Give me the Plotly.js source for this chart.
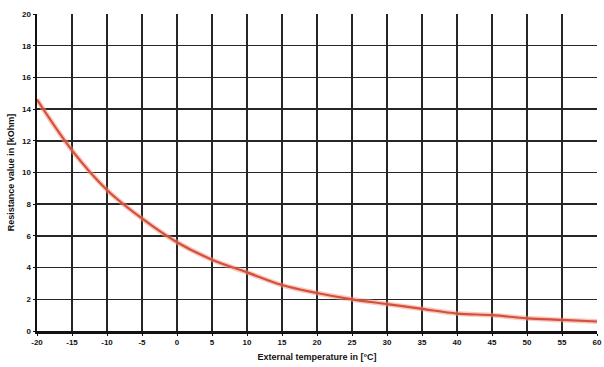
<!DOCTYPE html>
<html><head><meta charset="utf-8">
<script src="https://cdn.plot.ly/plotly-3.0.1.min.js"></script>
<style>html,body{margin:0;padding:0;background:#fff;}#chart{width:604px;height:367px;}</style>
</head><body><div id="chart"></div>
<script>
const temperature = [-20,-15,-10,-5,0,5,10,15,20,25,30,35,40,45,50,55,60];
const resistance = [14.6,11.4,8.9,7.1,5.6,4.5,3.7,2.9,2.4,2.0,1.7,1.4,1.1,1.0,0.8,0.7,0.6];
const xTicks = [-20,-15,-10,-5,0,5,10,15,20,25,30,35,40,45,50,55,60];
const yTicks = [0,2,4,6,8,10,12,14,16,18,20];

const traces = [
  {x: temperature, y: resistance, type:'scatter', mode:'lines', line:{shape:'spline', smoothing:1, color:'rgba(240,150,130,0.5)', width:5}, hoverinfo:'skip'},
  {x: temperature, y: resistance, type:'scatter', mode:'lines', line:{shape:'spline', smoothing:1, color:'#d4503c', width:2.2}}
];
const layout = {
  width:604, height:367, showlegend:false,
  margin:{l:37, r:7, t:14, b:36},
  paper_bgcolor:'#fff', plot_bgcolor:'#fff',
  font:{family:'Liberation Sans, Arial, sans-serif', color:'#111'},
  xaxis:{range:[-20,60], tickvals:xTicks, ticktext:xTicks.map(String), showgrid:true, gridcolor:'#262626', gridwidth:1.5,
    zeroline:false, showline:true, linecolor:'#111', linewidth:2.5, mirror:false, ticks:'outside', ticklen:2, tickcolor:'#111',
    tickfont:{size:8, family:'Liberation Sans, Arial, sans-serif', weight:'bold'},
    title:{text:'<b>External temperature in [°C]</b>', font:{size:9}, standoff:8}},
  yaxis:{range:[0,20], tickvals:yTicks, ticktext:yTicks.map(String), showgrid:true, gridcolor:'#262626', gridwidth:1.5,
    zeroline:false, showline:true, linecolor:'#111', linewidth:2.5, ticks:'outside', ticklen:2, tickcolor:'#111',
    tickfont:{size:8, family:'Liberation Sans, Arial, sans-serif', weight:'bold'},
    title:{text:'<b>Resistance value in [kOhm]</b>', font:{size:9}, standoff:6}}
};
Plotly.newPlot('chart', traces, layout, {displayModeBar:false, staticPlot:true});
</script></body></html>
